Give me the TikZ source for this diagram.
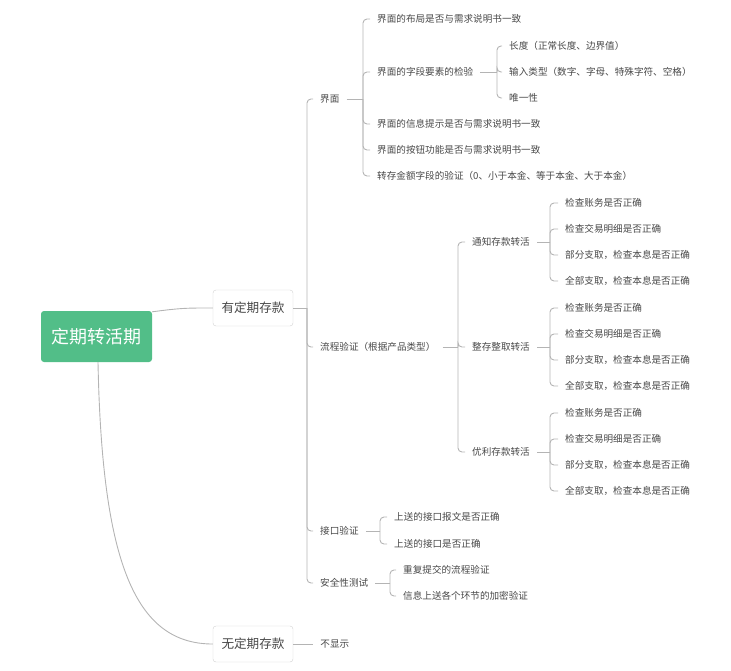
\documentclass[tikz,border=0pt]{standalone}
\usepackage{fontspec}
\setmainfont{Noto Sans CJK SC}
\usetikzlibrary{positioning}
\definecolor{topicgreen}{RGB}{82,190,136}
\definecolor{linegray}{RGB}{180,180,180}
\definecolor{textgray}{RGB}{72,72,72}

\begin{document}
\begin{tikzpicture}[x=1pt, y=-1pt, font=\fontsize{9.6}{11}\selectfont, text=textgray, topic/.style={fill=topicgreen, rounded corners=3pt, text=white, font=\fontsize{18}{20}\selectfont, minimum width=111pt, minimum height=51pt, inner sep=0pt}, branch/.style={draw=black!18, fill=white, rounded corners=3pt, font=\fontsize{12.6}{14}\selectfont, minimum width=80pt, minimum height=36pt, inner sep=0pt}, leaf/.style={anchor=west, inner xsep=7pt, inner ysep=2pt}, link/.style={draw=linegray, line width=0.9pt, rounded corners=4pt}]
\useasboundingbox (0,0) rectangle (731,670);
\node[topic] (root) at (96.5,336.5) {定期转活期};
\node[branch] (yes) at (253,308) {有定期存款};
\node[branch] (no) at (253,644) {无定期存款};
\node[leaf, right=20pt of no] (hide) {不显示};
\node[leaf] (ui) at (313,99) {界面};
\node[leaf] (flow) at (313,347) {流程验证（根据产品类型）};
\node[leaf] (api) at (313,531) {接口验证};
\node[leaf] (sec) at (313,583) {安全性测试};
\node[leaf] (ui1) at (370,19) {界面的布局是否与需求说明书一致};
\node[leaf] (ui2) at (370,72) {界面的字段要素的检验};
\node[leaf] (ui3) at (370,124) {界面的信息提示是否与需求说明书一致};
\node[leaf] (ui4) at (370,150) {界面的按钮功能是否与需求说明书一致};
\node[leaf] (ui5) at (370,176) {转存金额字段的验证（0、小于本金、等于本金、大于本金）};
\node[leaf] (field1) at (502,46) {长度（正常长度、边界值）};
\node[leaf] (field2) at (502,72) {输入类型（数字、字母、特殊字符、空格）};
\node[leaf] (field3) at (502,98) {唯一性};
\node[leaf] (notice) at (465,242) {通知存款转活};
\node[leaf] (whole) at (465,347) {整存整取转活};
\node[leaf] (bonus) at (465,452) {优利存款转活};
\node[leaf] (notice1) at (558,203) {检查账务是否正确};
\node[leaf] (notice2) at (558,229) {检查交易明细是否正确};
\node[leaf] (notice3) at (558,255) {部分支取，检查本息是否正确};
\node[leaf] (notice4) at (558,281) {全部支取，检查本息是否正确};
\node[leaf] (whole1) at (558,308) {检查账务是否正确};
\node[leaf] (whole2) at (558,334) {检查交易明细是否正确};
\node[leaf] (whole3) at (558,360) {部分支取，检查本息是否正确};
\node[leaf] (whole4) at (558,386) {全部支取，检查本息是否正确};
\node[leaf] (bonus1) at (558,413) {检查账务是否正确};
\node[leaf] (bonus2) at (558,439) {检查交易明细是否正确};
\node[leaf] (bonus3) at (558,465) {部分支取，检查本息是否正确};
\node[leaf] (bonus4) at (558,491) {全部支取，检查本息是否正确};
\node[leaf] (api1) at (387,517) {上送的接口报文是否正确};
\node[leaf] (api2) at (387,544) {上送的接口是否正确};
\node[leaf] (sec1) at (396,570) {重复提交的流程验证};
\node[leaf] (sec2) at (396,596) {信息上送各个环节的加密验证};
\coordinate (yes-b) at (307,308);
\coordinate (ui-b) at (363,99);
\coordinate (ui2-b) at (497,72);
\coordinate (flow-b) at (458,347);
\coordinate (notice-b) at (550,242);
\coordinate (whole-b) at (550,347);
\coordinate (bonus-b) at (550,452);
\coordinate (api-b) at (380,531);
\coordinate (sec-b) at (390,583);
\draw[link] ([yshift=-1pt]root.north east) .. controls +(30,-4) and +(-25,0) .. (yes.west);
\draw[link] ([xshift=1.5pt]root.south) .. controls +(4,200) and +(-78,0) .. (no.west);
\draw[link] (no.east) -- (hide.west);
\draw[link] (yes.east) -- (yes-b);
\draw[link] (yes-b) |- (ui.west);
\draw[link] (yes-b) |- (flow.west);
\draw[link] (yes-b) |- (api.west);
\draw[link] (yes-b) |- (sec.west);
\draw[link] (ui.east) -- (ui-b);
\draw[link] (ui-b) |- (ui1.west);
\draw[link] (ui-b) |- (ui2.west);
\draw[link] (ui-b) |- (ui3.west);
\draw[link] (ui-b) |- (ui4.west);
\draw[link] (ui-b) |- (ui5.west);
\draw[link] (ui2.east) -- (ui2-b);
\draw[link] (ui2-b) |- (field1.west);
\draw[link] (ui2-b) |- (field2.west);
\draw[link] (ui2-b) |- (field3.west);
\draw[link] (flow.east) -- (flow-b);
\draw[link] (flow-b) |- (notice.west);
\draw[link] (flow-b) |- (whole.west);
\draw[link] (flow-b) |- (bonus.west);
\draw[link] (notice.east) -- (notice-b);
\draw[link] (notice-b) |- (notice1.west);
\draw[link] (notice-b) |- (notice2.west);
\draw[link] (notice-b) |- (notice3.west);
\draw[link] (notice-b) |- (notice4.west);
\draw[link] (whole.east) -- (whole-b);
\draw[link] (whole-b) |- (whole1.west);
\draw[link] (whole-b) |- (whole2.west);
\draw[link] (whole-b) |- (whole3.west);
\draw[link] (whole-b) |- (whole4.west);
\draw[link] (bonus.east) -- (bonus-b);
\draw[link] (bonus-b) |- (bonus1.west);
\draw[link] (bonus-b) |- (bonus2.west);
\draw[link] (bonus-b) |- (bonus3.west);
\draw[link] (bonus-b) |- (bonus4.west);
\draw[link] (api.east) -- (api-b);
\draw[link] (api-b) |- (api1.west);
\draw[link] (api-b) |- (api2.west);
\draw[link] (sec.east) -- (sec-b);
\draw[link] (sec-b) |- (sec1.west);
\draw[link] (sec-b) |- (sec2.west);
\end{tikzpicture}
\end{document}
